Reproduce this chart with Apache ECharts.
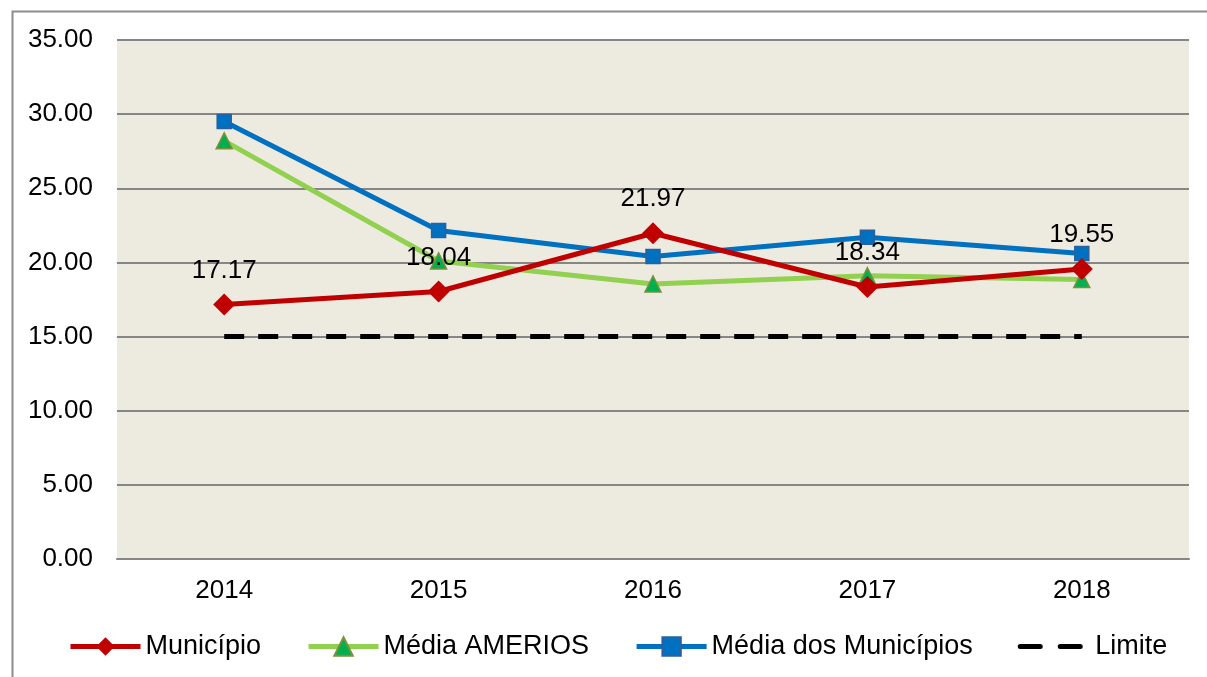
<!DOCTYPE html>
<html>
<head>
<meta charset="utf-8">
<script src="https://cdn.jsdelivr.net/npm/echarts@6/dist/echarts.min.js"></script>
<style>html,body{margin:0;padding:0;background:#fff}#c{width:1207px;height:677px}</style>
</head>
<body>
<div id="c"></div>
<script>
const categories = ['2014', '2015', '2016', '2017', '2018'];
const municipio = [17.17, 18.04, 21.97, 18.34, 19.55];
const mediaAmerios = [28.2, 20.1, 18.55, 19.1, 18.85];
const mediaMunicipios = [29.5, 22.15, 20.4, 21.7, 20.6];
const limite = [15, 15, 15, 15, 15];
const yTicks = { min: 0, max: 35, interval: 5 };

const FONT = 'Liberation Sans, Arial, sans-serif';
const chart = echarts.init(document.getElementById('c'), null, { renderer: 'canvas' });
chart.setOption({
  backgroundColor: '#ffffff',
  animation: false,
  graphic: [{
    type: 'rect', left: 10, top: 9, shape: { width: 1210, height: 690 },
    style: { fill: 'none', stroke: '#8c8c8c', lineWidth: 2 }, silent: true, z: -1
  }],
  grid: { left: 117, right: 18, top: 40, bottom: 118, show: true, backgroundColor: '#EDEAE0', borderWidth: 0 },
  legend: {
    left: 68, top: 633, padding: 0, itemWidth: 70, itemHeight: 23, itemGap: 45,
    textStyle: { fontFamily: FONT, fontSize: 27, color: '#000' },
    lineStyle: { width: 5 },
    data: [
      { name: 'Município' },
      { name: 'Média AMERIOS' },
      { name: 'Média dos Municípios' },
      { name: 'Limite', itemStyle: { color: 'rgba(0,0,0,0)', borderWidth: 0 }, lineStyle: { type: [20, 20], cap: 'round', width: 5 } }
    ]
  },
  xAxis: {
    type: 'category', data: categories, boundaryGap: true,
    axisLine: { show: true, lineStyle: { color: '#868686', width: 2 } },
    axisTick: { show: false },
    axisLabel: { fontFamily: FONT, fontSize: 26, color: '#000', margin: 19 }
  },
  yAxis: {
    type: 'value', min: yTicks.min, max: yTicks.max, interval: yTicks.interval,
    axisLine: { show: false }, axisTick: { show: false },
    axisLabel: { fontFamily: FONT, fontSize: 26, color: '#000', margin: 24, formatter: v => v.toFixed(2) },
    splitLine: { lineStyle: { color: '#868686', width: 2 } }
  },
  series: [
    {
      name: 'Limite', type: 'line', data: limite, symbol: 'none', z: 1,
      lineStyle: { color: '#000', width: 5, type: [20, 14] },
      itemStyle: { color: '#000' }
    },
    {
      name: 'Média AMERIOS', type: 'line', data: mediaAmerios, z: 2,
      symbol: 'triangle', symbolSize: 16,
      lineStyle: { color: '#92D050', width: 5 },
      itemStyle: { color: '#00B050', borderColor: '#77933C', borderWidth: 1.5 }
    },
    {
      name: 'Média dos Municípios', type: 'line', data: mediaMunicipios, z: 3,
      symbol: 'rect', symbolSize: 14,
      lineStyle: { color: '#0070C0', width: 5 },
      itemStyle: { color: '#0070C0', borderColor: '#2C5F9E', borderWidth: 1.5 }
    },
    {
      name: 'Município', type: 'line', data: municipio, z: 4,
      symbol: 'diamond', symbolSize: [22, 22],
      lineStyle: { color: '#C00000', width: 5 },
      itemStyle: { color: '#C00000' },
      label: { show: true, position: 'top', distance: 10, fontFamily: FONT, fontSize: 26, color: '#000', formatter: p => p.value.toFixed(2) }
    }
  ]
});
</script>
</body>
</html>
